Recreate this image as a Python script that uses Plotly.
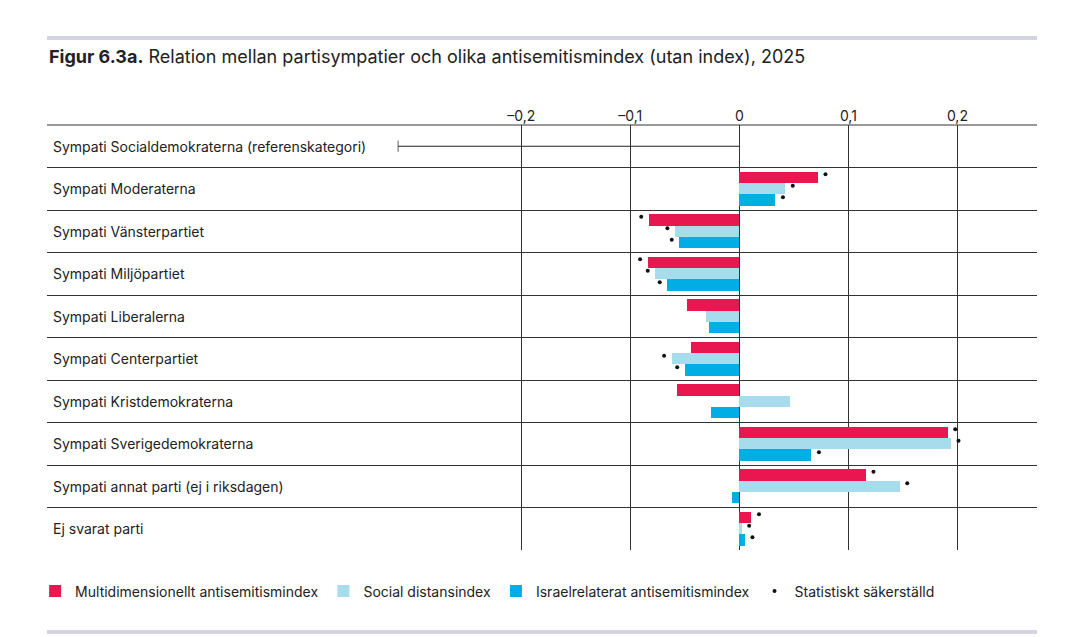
import plotly.graph_objects as go

categories = ["Sympati Socialdemokraterna (referenskategori)", "Sympati Moderaterna",
              "Sympati Vänsterpartiet", "Sympati Miljöpartiet", "Sympati Liberalerna",
              "Sympati Centerpartiet", "Sympati Kristdemokraterna",
              "Sympati Sverigedemokraterna", "Sympati annat parti (ej i riksdagen)",
              "Ej svarat parti"]
multi = [None, 0.072, -0.083, -0.084, -0.048, -0.044, -0.057, 0.191, 0.116, 0.011]
social = [None, 0.042, -0.059, -0.077, -0.031, -0.062, 0.046, 0.194, 0.147, 0.002]
israel = [None, 0.033, -0.055, -0.066, -0.028, -0.050, -0.026, 0.066, -0.007, 0.005]
sig_multi = [0, 1, 1, 1, 0, 0, 0, 1, 1, 1]
sig_social = [0, 1, 1, 1, 0, 1, 0, 1, 1, 1]
sig_israel = [0, 1, 1, 1, 0, 1, 0, 1, 0, 1]
tick_vals = [-0.2, -0.1, 0, 0.1, 0.2]
tick_text = ["–0,2", "–0,1", "0", "0,1", "0,2"]

colors = ["#e8174f", "#a6dcec", "#00aee6"]
names = ["Multidimensionellt antisemitismindex", "Social distansindex",
         "Israelrelaterat antisemitismindex"]
rows = list(range(len(categories)))
offs = [-0.27, 0, 0.27]

fig = go.Figure()
dx, dy = [], []
for vals, sig, col, name, off in zip([multi, social, israel],
                                      [sig_multi, sig_social, sig_israel],
                                      colors, names, offs):
    fig.add_trace(go.Bar(x=vals, y=[r + off for r in rows], orientation="h",
                         width=0.27, marker=dict(color=col, line=dict(width=0)),
                         name=name))
    for r, v, s in zip(rows, vals, sig):
        if s and v is not None:
            dx.append(v + (0.007 if v >= 0 else -0.007))
            dy.append(r + off - 0.07)

fig.add_trace(go.Scatter(x=dx, y=dy, mode="markers", name="Statistiskt säkerställd",
                         marker=dict(color="#111", size=4)))
# reference category line
fig.add_trace(go.Scatter(x=[-0.313, 0], y=[0, 0], mode="lines+markers",
                         line=dict(color="#222", width=1),
                         marker=dict(symbol="line-ns", size=[8, 0],
                                     line=dict(width=1, color="#222")),
                         showlegend=False))

for r, c in zip(rows, categories):
    fig.add_annotation(x=-0.631, y=r, text=c, showarrow=False, xanchor="left",
                       font=dict(size=14, color="#222"))

fig.add_annotation(x=0, y=1.19, xref="paper", yref="paper",
                   text="<b>Figur 6.3a.</b> Relation mellan partisympatier och olika antisemitismindex (utan index), 2025",
                   showarrow=False, xanchor="left", yanchor="top",
                   font=dict(size=18, color="#222"))

fig.update_layout(
    width=1081, height=637, plot_bgcolor="white", paper_bgcolor="white",
    margin=dict(l=39, r=52, t=117, b=95),
    font=dict(family="Inter, Noto Sans, sans-serif", color="#222"),
    barmode="overlay", bargap=0,
    xaxis=dict(range=[-0.635, 0.273], side="top", tickvals=tick_vals, ticktext=tick_text,
               showgrid=True, gridcolor="#333", gridwidth=1, zeroline=False,
               tickfont=dict(size=14), ticks="", fixedrange=True),
    yaxis=dict(range=[9.5, -0.5], tickvals=[r - 0.5 for r in rows] + [9.5],
               showticklabels=False, showgrid=True, gridcolor="#333", gridwidth=1,
               zeroline=False),
    legend=dict(orientation="h", x=-0.012, y=-0.06, xanchor="left", yanchor="top",
                font=dict(size=14), itemwidth=30, tracegroupgap=0),
    shapes=[
        dict(type="line", xref="paper", yref="paper", x0=0, x1=1, y0=1.205, y1=1.205,
             line=dict(color="#d4d3e0", width=4)),
        dict(type="line", xref="paper", yref="paper", x0=0, x1=1, y0=-0.193, y1=-0.193,
             line=dict(color="#d4d3e0", width=4)),
        dict(type="line", xref="paper", yref="paper", x0=0, x1=1, y0=1, y1=1,
             line=dict(color="#333", width=1)),
    ],
)
fig.write_html("out.html")
